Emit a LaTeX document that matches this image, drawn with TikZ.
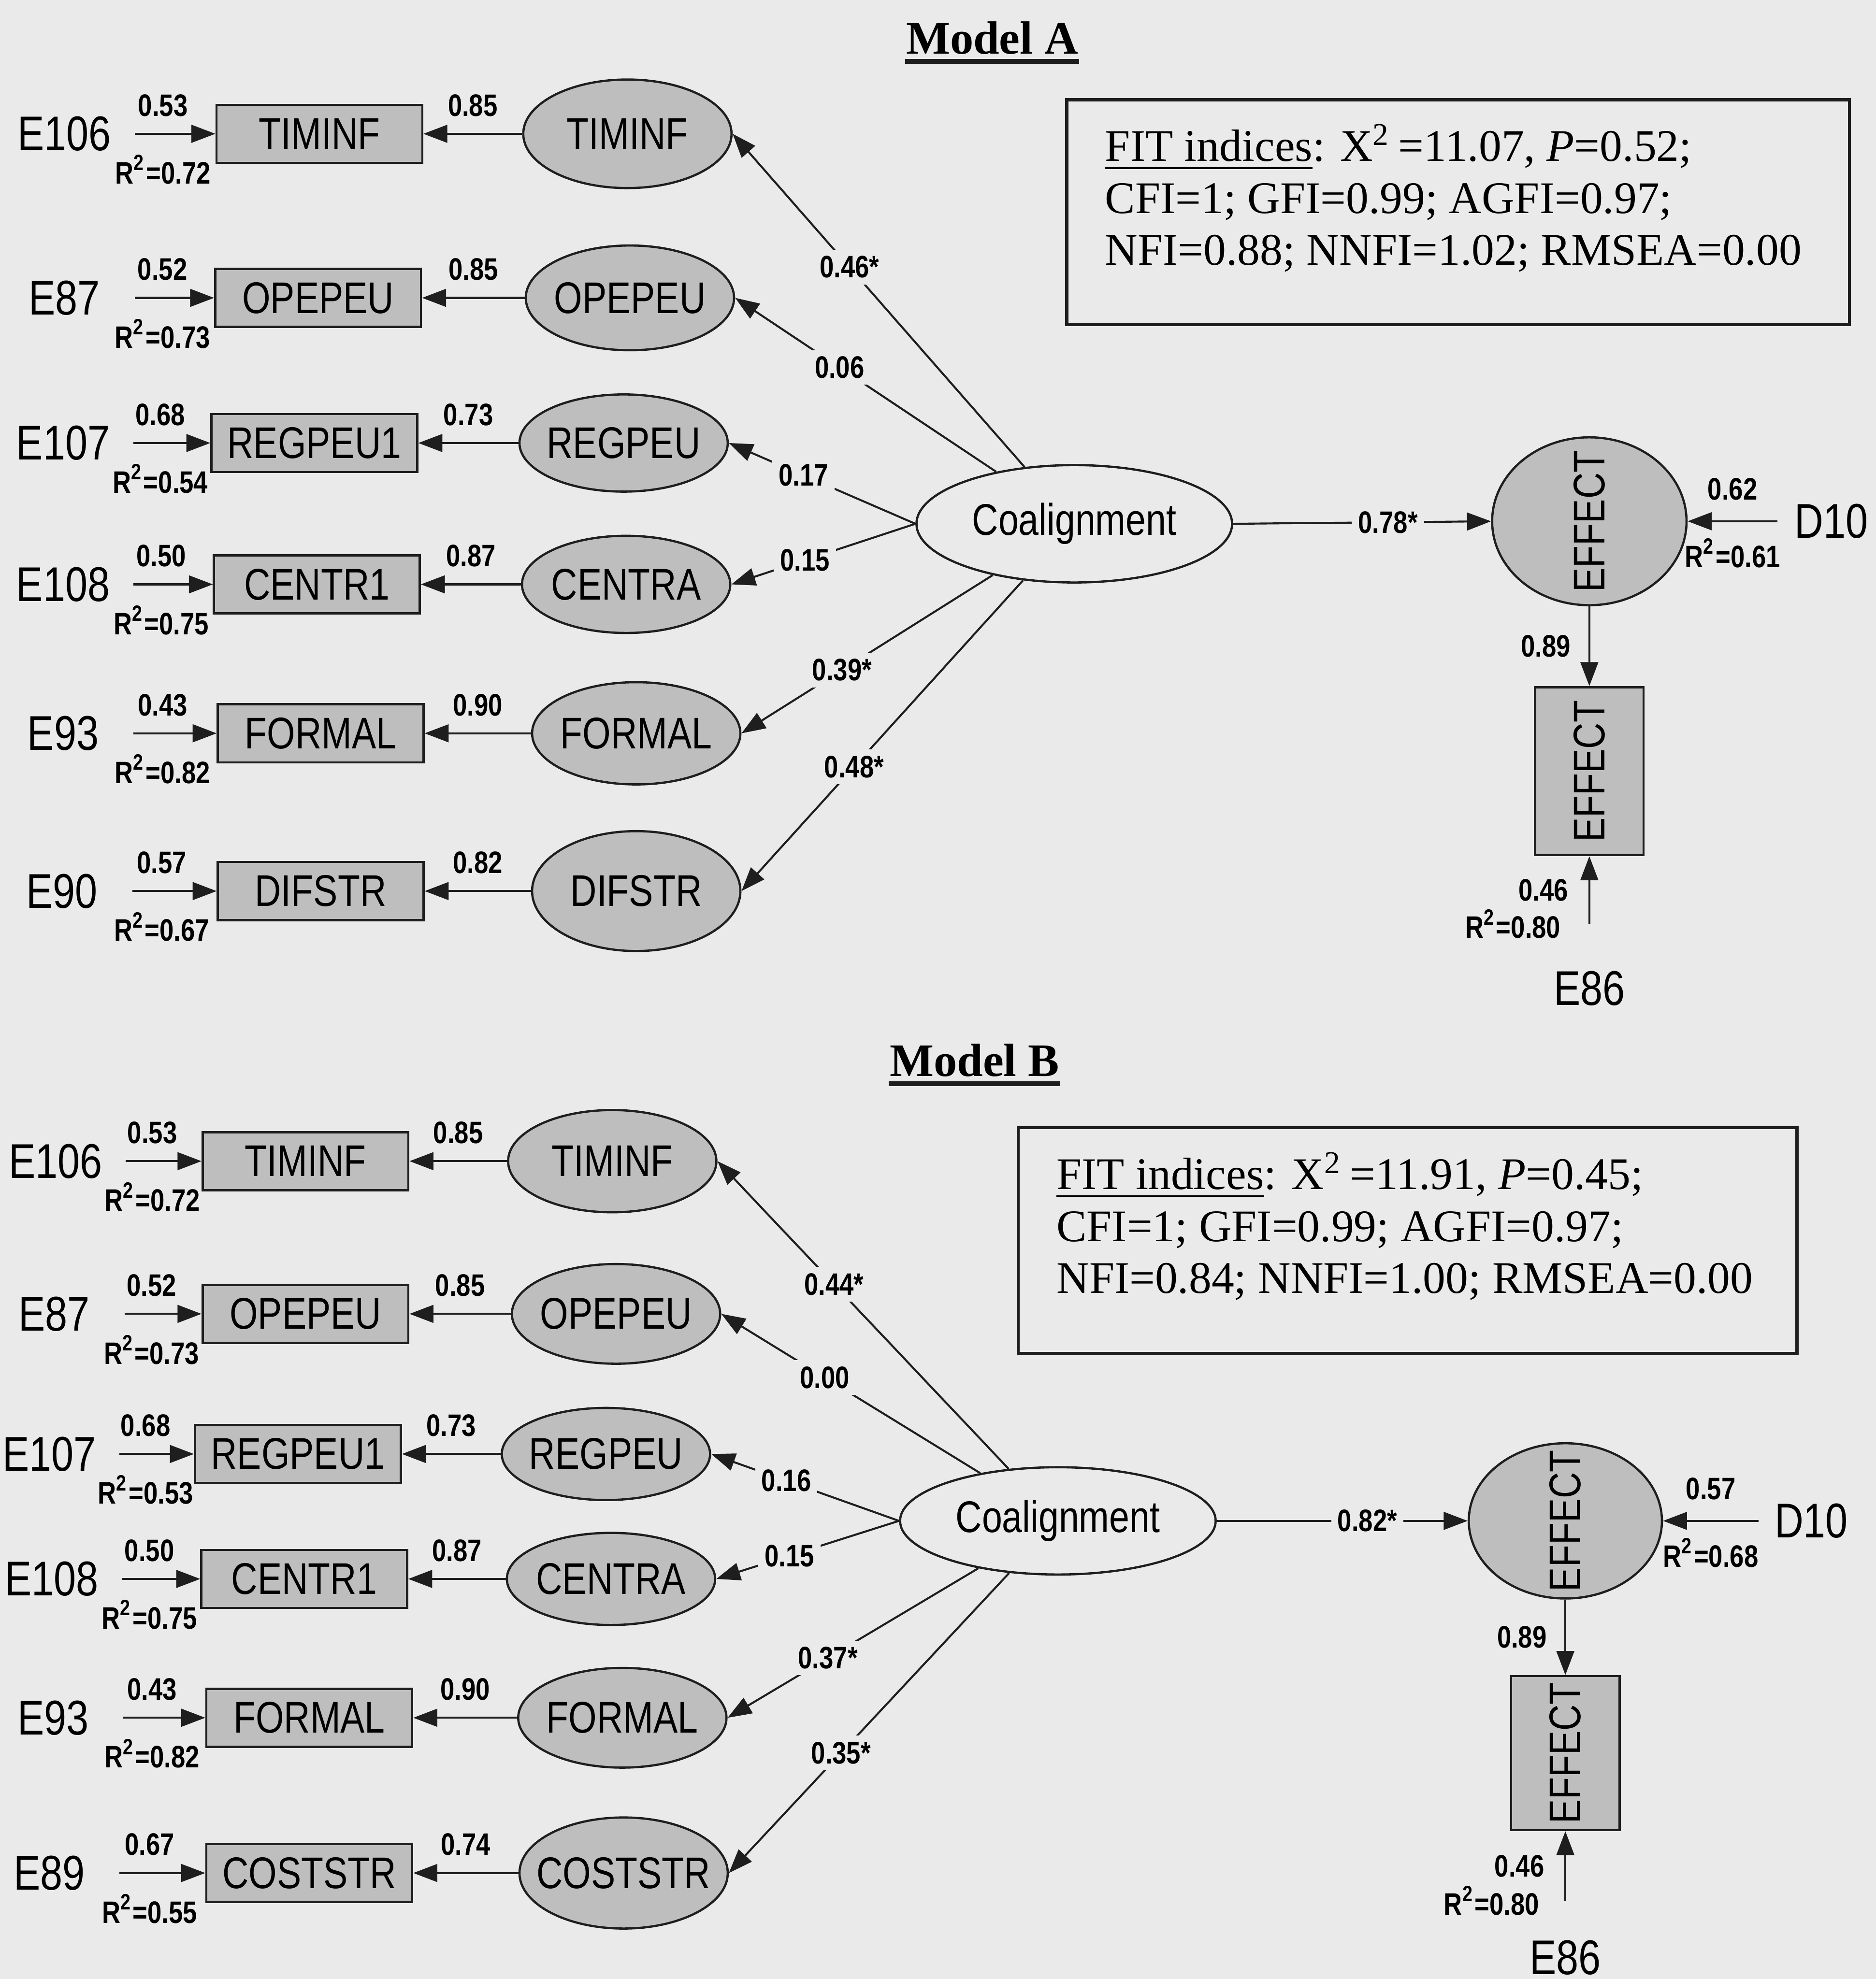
\documentclass[tikz,border=0pt]{standalone}
\usepackage{fontspec}
\setmainfont{Liberation Serif}
\newfontfamily\semsf[FakeStretch=0.82]{Liberation Sans}
\usetikzlibrary{arrows.meta,shapes.geometric}
\definecolor{pagegray}{RGB}{234,234,234}
\definecolor{varfill}{RGB}{190,190,190}
\definecolor{ink}{RGB}{30,30,30}
\newcommand{\nw}[1]{\makebox[0pt]{#1}}

\begin{document}
\begin{tikzpicture}[x=0.1mm,y=-0.1mm,
  font=\semsf\fontsize{10}{12}\selectfont,
  obs/.style={draw=ink,fill=varfill,line width=0.5pt,inner sep=0,
    minimum width=16.3mm,minimum height=4.6mm},
  lat/.style={ellipse,draw=ink,fill=varfill,line width=0.5pt,inner sep=0,
    minimum width=16.5mm,minimum height=8.3mm},
  coal/.style={ellipse,draw=ink,fill=pagegray,line width=0.5pt,inner sep=0,
    minimum width=25mm,minimum height=9.3mm},
  err/.style={inner sep=0,minimum width=11mm,
    font=\semsf\fontsize{11}{13}\selectfont},
  dist/.style={err,minimum width=0pt,inner xsep=1.3mm},
  arr/.style={-{Triangle[length=1.9mm,width=1.4mm]},draw=ink,line width=0.45pt},
  num/.style={font=\semsf\bfseries\fontsize{7}{8}\selectfont,inner sep=0},
  pnum/.style={num,fill=pagegray,inner sep=0.5mm},
  fitbox/.style={draw=ink,line width=0.7pt,minimum width=62mm,minimum height=17.8mm},
  fittxt/.style={font=\fontsize{10.2}{11.7}\selectfont,align=left,inner sep=0,
    anchor=north west},
  ttl/.style={font=\bfseries\fontsize{10.5}{12}\selectfont,inner sep=0},
  uline/.style={draw=ink,line width=1pt}]

\fill[pagegray] (0,0) rectangle (1486,1568);
\useasboundingbox (0,0) rectangle (1486,1568);

% ---------------- Model A ----------------
\node[ttl] (titA) at (786,30) {Model A};
\draw[uline] ([yshift=-0.6mm]titA.base west) -- ([yshift=-0.6mm]titA.base east);

\node[err] (eA1) at (51,106) {E106};
\node[obs] (oA1) at (253,106) {TIMINF};
\node[lat,minimum height=8.6mm] (lA1) at (497,106) {\nw{TIMINF}};
\node[err] (eA2) at (51,236) {E87};
\node[obs] (oA2) at (252,236) {OPEPEU};
\node[lat] (lA2) at (499,236) {\nw{OPEPEU}};
\node[err] (eA3) at (50,351) {E107};
\node[obs] (oA3) at (249,351) {REGPEU1};
\node[lat,minimum height=7.7mm] (lA3) at (494,351) {\nw{REGPEU}};
\node[err] (eA4) at (50,463) {E108};
\node[obs] (oA4) at (251,463) {CENTR1};
\node[lat,minimum height=7.7mm] (lA4) at (496,463) {\nw{CENTRA}};
\node[err] (eA5) at (50,581) {E93};
\node[obs] (oA5) at (254,581) {FORMAL};
\node[lat,minimum height=8.1mm] (lA5) at (504,581) {\nw{FORMAL}};
\node[err] (eA6) at (49,706) {E90};
\node[obs] (oA6) at (254,706) {DIFSTR};
\node[lat,minimum height=9.5mm] (lA6) at (504,706) {\nw{DIFSTR}};

\node[coal] (coalA) at (851,415) {Coalignment};
\node[ellipse,draw=ink,fill=varfill,line width=0.5pt,inner sep=0,
  minimum width=15.4mm,minimum height=13.3mm,
  label={[rotate=90]center:EFFECT}] (effA) at (1259,413) {};
\node[obs,minimum width=8.6mm,minimum height=13.3mm] (effboxA) at (1259,611)
  {\rotatebox{90}{EFFECT}};
\node[dist,anchor=west] (dA) at (1408,413) {D10};
\node[err] (e86A) at (1259,783) {E86};

\node[fitbox] (fitA) at (1155,168) {};
\node[fittxt] (fitAtxt) at ([xshift=3.1mm,yshift=-2mm]fitA.north west)
  {\underline{FIT indices}: X\textsuperscript{2}\,=11.07, \textit{P}=0.52;\\
   CFI=1; GFI=0.99; AGFI=0.97;\\
   NFI=0.88; NNFI=1.02; RMSEA=0.00};

% error terms and loadings
\draw[arr] (eA1.east) -- (oA1.west) node[num,pos=0.35,above=1.3mm] {0.53}
  node[num,pos=0.35,below=1.6mm] {R\textsuperscript{2}=0.72};
\draw[arr] (eA2.east) -- (oA2.west) node[num,pos=0.35,above=1.3mm] {0.52}
  node[num,pos=0.35,below=1.6mm] {R\textsuperscript{2}=0.73};
\draw[arr] (eA3.east) -- (oA3.west) node[num,pos=0.35,above=1.3mm] {0.68}
  node[num,pos=0.35,below=1.6mm] {R\textsuperscript{2}=0.54};
\draw[arr] (eA4.east) -- (oA4.west) node[num,pos=0.35,above=1.3mm] {0.50}
  node[num,pos=0.35,below=1.6mm] {R\textsuperscript{2}=0.75};
\draw[arr] (eA5.east) -- (oA5.west) node[num,pos=0.35,above=1.3mm] {0.43}
  node[num,pos=0.35,below=1.6mm] {R\textsuperscript{2}=0.82};
\draw[arr] (eA6.east) -- (oA6.west) node[num,pos=0.35,above=1.3mm] {0.57}
  node[num,pos=0.35,below=1.6mm] {R\textsuperscript{2}=0.67};
\draw[arr] (lA1.west) -- (oA1.east) node[num,midway,above=1.3mm] {0.85};
\draw[arr] (lA2.west) -- (oA2.east) node[num,midway,above=1.3mm] {0.85};
\draw[arr] (lA3.west) -- (oA3.east) node[num,midway,above=1.3mm] {0.73};
\draw[arr] (lA4.west) -- (oA4.east) node[num,midway,above=1.3mm] {0.87};
\draw[arr] (lA5.west) -- (oA5.east) node[num,midway,above=1.3mm] {0.90};
\draw[arr] (lA6.west) -- (oA6.east) node[num,midway,above=1.3mm] {0.82};

% second order paths
\draw[arr] (coalA) -- (lA1.east) node[pnum,pos=0.6] {0.46*};
\draw[arr] (coalA) -- (lA2.east) node[pnum,pos=0.6] {0.06};
\draw[arr] (coalA.west) -- (lA3.east) node[pnum,pos=0.6] {0.17};
\draw[arr] (coalA.west) -- (lA4.east) node[pnum,pos=0.6] {0.15};
\draw[arr] (coalA) -- (lA5.east) node[pnum,pos=0.6] {0.39*};
\draw[arr] (coalA) -- (lA6.east) node[pnum,pos=0.6] {0.48*};
\draw[arr] (coalA.east) -- (effA.west) node[pnum,pos=0.6] {0.78*};
\draw[arr] (dA.west) -- (effA.east) node[num,midway,above=1.6mm] {0.62}
  node[num,midway,below=1.3mm] {R\textsuperscript{2}=0.61};
\draw[arr] (effA.south) -- (effboxA.north) node[num,midway,left=1.4mm] {0.89};
\draw[arr] ([yshift=5.1mm]e86A.center) -- (effboxA.south)
  node[num,pos=0.5,left=1.6mm] {0.46}
  node[num,pos=0,left=2.2mm] {R\textsuperscript{2}=0.80};

% ---------------- Model B ----------------
\node[ttl] (titB) at (772,840) {Model B};
\draw[uline] ([yshift=-0.6mm]titB.base west) -- ([yshift=-0.6mm]titB.base east);

\node[err] (eB1) at (44,920) {E106};
\node[obs] (oB1) at (242,920) {TIMINF};
\node[lat,minimum height=8.1mm] (lB1) at (485,920) {\nw{TIMINF}};
\node[err] (eB2) at (43,1041) {E87};
\node[obs] (oB2) at (242,1041) {OPEPEU};
\node[lat,minimum height=7.9mm] (lB2) at (488,1041) {\nw{OPEPEU}};
\node[err] (eB3) at (39,1152) {E107};
\node[obs] (oB3) at (236,1152) {REGPEU1};
\node[lat,minimum height=7.3mm] (lB3) at (480,1152) {\nw{REGPEU}};
\node[err] (eB4) at (41,1251) {E108};
\node[obs] (oB4) at (241,1251) {CENTR1};
\node[lat,minimum height=7.3mm] (lB4) at (484,1251) {\nw{CENTRA}};
\node[err] (eB5) at (42,1361) {E93};
\node[obs] (oB5) at (245,1361) {FORMAL};
\node[lat,minimum height=7.9mm] (lB5) at (493,1361) {\nw{FORMAL}};
\node[err] (eB6) at (39,1484) {E89};
\node[obs] (oB6) at (245,1484) {COSTSTR};
\node[lat,minimum height=8.8mm] (lB6) at (494,1484) {\nw{COSTSTR}};

\node[coal,minimum height=8.5mm] (coalB) at (838,1205) {Coalignment};
\node[ellipse,draw=ink,fill=varfill,line width=0.5pt,inner sep=0,
  minimum width=15.3mm,minimum height=12.3mm,
  label={[rotate=90]center:EFFECT}] (effB) at (1240,1205) {};
\node[obs,minimum width=8.6mm,minimum height=12.2mm] (effboxB) at (1240,1389)
  {\rotatebox{90}{EFFECT}};
\node[dist,anchor=west,inner xsep=1.2mm] (dB) at (1393,1205) {D10};
\node[err] (e86B) at (1240,1551) {E86};

\node[fitbox,minimum width=61.7mm,minimum height=17.9mm] (fitB) at (1115,983) {};
\node[fittxt] (fitBtxt) at ([xshift=3.1mm,yshift=-2mm]fitB.north west)
  {\underline{FIT indices}: X\textsuperscript{2}\,=11.91, \textit{P}=0.45;\\
   CFI=1; GFI=0.99; AGFI=0.97;\\
   NFI=0.84; NNFI=1.00; RMSEA=0.00};

% error terms and loadings
\draw[arr] (eB1.east) -- (oB1.west) node[num,pos=0.35,above=1.3mm] {0.53}
  node[num,pos=0.35,below=1.6mm] {R\textsuperscript{2}=0.72};
\draw[arr] (eB2.east) -- (oB2.west) node[num,pos=0.35,above=1.3mm] {0.52}
  node[num,pos=0.35,below=1.6mm] {R\textsuperscript{2}=0.73};
\draw[arr] (eB3.east) -- (oB3.west) node[num,pos=0.35,above=1.3mm] {0.68}
  node[num,pos=0.35,below=1.6mm] {R\textsuperscript{2}=0.53};
\draw[arr] (eB4.east) -- (oB4.west) node[num,pos=0.35,above=1.3mm] {0.50}
  node[num,pos=0.35,below=1.6mm] {R\textsuperscript{2}=0.75};
\draw[arr] (eB5.east) -- (oB5.west) node[num,pos=0.35,above=1.3mm] {0.43}
  node[num,pos=0.35,below=1.6mm] {R\textsuperscript{2}=0.82};
\draw[arr] (eB6.east) -- (oB6.west) node[num,pos=0.35,above=1.3mm] {0.67}
  node[num,pos=0.35,below=1.6mm] {R\textsuperscript{2}=0.55};
\draw[arr] (lB1.west) -- (oB1.east) node[num,midway,above=1.3mm] {0.85};
\draw[arr] (lB2.west) -- (oB2.east) node[num,midway,above=1.3mm] {0.85};
\draw[arr] (lB3.west) -- (oB3.east) node[num,midway,above=1.3mm] {0.73};
\draw[arr] (lB4.west) -- (oB4.east) node[num,midway,above=1.3mm] {0.87};
\draw[arr] (lB5.west) -- (oB5.east) node[num,midway,above=1.3mm] {0.90};
\draw[arr] (lB6.west) -- (oB6.east) node[num,midway,above=1.3mm] {0.74};

% second order paths
\draw[arr] (coalB) -- (lB1.east) node[pnum,pos=0.6] {0.44*};
\draw[arr] (coalB) -- (lB2.east) node[pnum,pos=0.6] {0.00};
\draw[arr] (coalB.west) -- (lB3.east) node[pnum,pos=0.6] {0.16};
\draw[arr] (coalB.west) -- (lB4.east) node[pnum,pos=0.6] {0.15};
\draw[arr] (coalB) -- (lB5.east) node[pnum,pos=0.6] {0.37*};
\draw[arr] (coalB) -- (lB6.east) node[pnum,pos=0.6] {0.35*};
\draw[arr] (coalB.east) -- (effB.west) node[pnum,pos=0.6] {0.82*};
\draw[arr] (dB.west) -- (effB.east) node[num,midway,above=1.6mm] {0.57}
  node[num,midway,below=1.3mm] {R\textsuperscript{2}=0.68};
\draw[arr] (effB.south) -- (effboxB.north) node[num,midway,left=1.4mm] {0.89};
\draw[arr] ([yshift=4.5mm]e86B.center) -- (effboxB.south)
  node[num,pos=0.5,left=1.6mm] {0.46}
  node[num,pos=0,left=2mm] {R\textsuperscript{2}=0.80};
\end{tikzpicture}
\end{document}
